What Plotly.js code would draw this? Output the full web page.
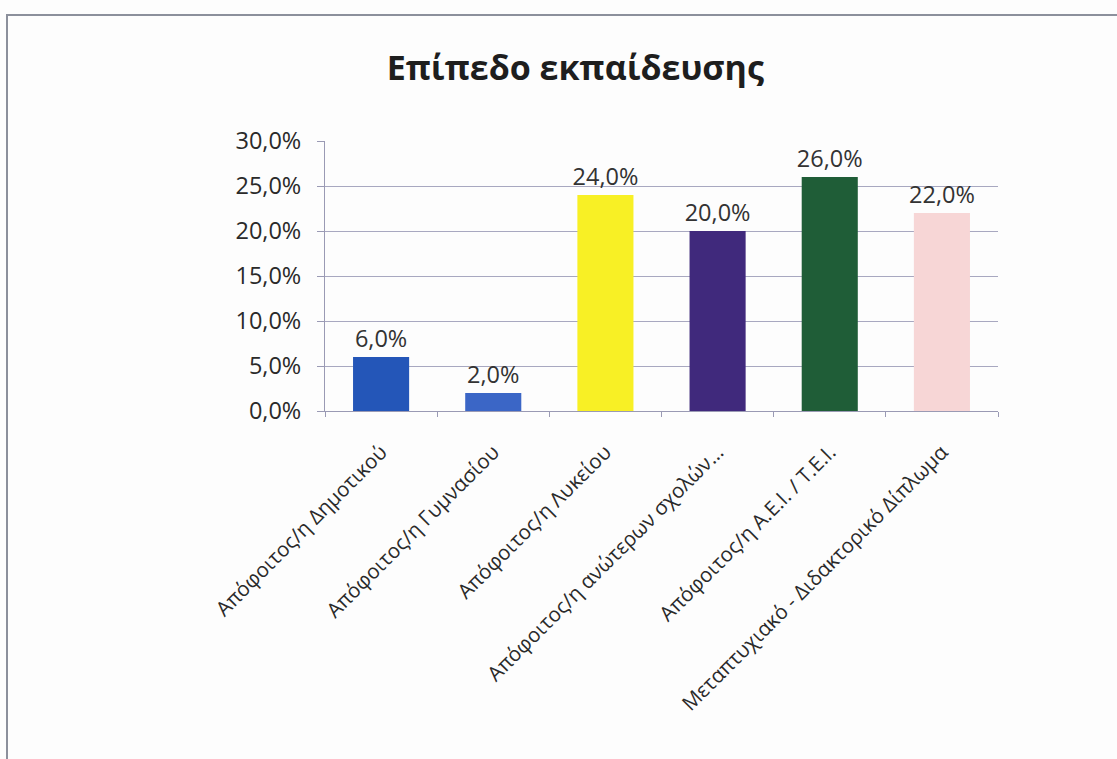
<!DOCTYPE html>
<html>
<head>
<meta charset="utf-8">
<script src="https://cdn.plot.ly/plotly-3.0.1.min.js"></script>
<style>
html,body{margin:0;padding:0;background:#fdfdfd;}
#chart{width:1117px;height:759px;}
#frame{position:absolute;left:6px;top:14px;width:1111px;height:745px;border-top:2px solid #8c909c;border-left:2px solid #8c909c;pointer-events:none;}
</style>
</head>
<body>
<div id="chart"></div>
<div id="frame"></div>
<script>
const categories = [
  "Απόφοιτος/η Δημοτικού",
  "Απόφοιτος/η Γυμνασίου",
  "Απόφοιτος/η Λυκείου",
  "Απόφοιτος/η ανώτερων σχολών...",
  "Απόφοιτος/η Α.Ε.Ι. / Τ.Ε.Ι.",
  "Μεταπτυχιακό - Διδακτορικό Δίπλωμα"
];
const values = [6.0, 2.0, 24.0, 20.0, 26.0, 22.0];
const barColors = ["#2456b8", "#3b66c6", "#f8f025", "#40297c", "#1f5d37", "#f7d6d6"];
const yTicks = [0, 5, 10, 15, 20, 25, 30];
const yTickLabels = ["0,0%", "5,0%", "10,0%", "15,0%", "20,0%", "25,0%", "30,0%"];
const labels = values.map(v => v.toFixed(1).replace('.', ',') + '%');

const font = "Open Sans, Noto Sans, sans-serif";

Plotly.newPlot('chart', [{
  type: 'bar',
  x: categories,
  y: values,
  marker: {color: barColors},
  width: 0.5,
  text: labels,
  textposition: 'outside',
  constraintext: 'none',
  cliponaxis: false,
  textfont: {family: font, size: 23.5, color: '#333333'},
  hoverinfo: 'none'
}], {
  width: 1117,
  height: 759,
  paper_bgcolor: '#fdfdfd',
  plot_bgcolor: '#fdfdfd',
  margin: {l: 325, r: 119, t: 141, b: 348},
  title: {
    text: '<b>Επίπεδο εκπαίδευσης</b>',
    x: 0.515, xanchor: 'center', y: 0.91, yanchor: 'middle',
    font: {family: font, size: 34, color: '#1e1e1e'}
  },
  showlegend: false,
  xaxis: {
    type: 'category',
    tickangle: -45,
    tickfont: {family: font, size: 20.5, color: '#2a2a2a'},
    showline: true, linecolor: '#9a9ab4', linewidth: 1,
    ticks: 'outside', tickson: 'boundaries', ticklen: 5, tickcolor: '#9a9ab4',
    ticklabelstandoff: 20,
    showgrid: false
  },
  yaxis: {
    range: [0, 30],
    tickvals: yTicks,
    ticktext: yTickLabels,
    tickfont: {family: font, size: 23.5, color: '#2a2a2a'},
    showline: true, linecolor: '#9a9ab4', linewidth: 1,
    ticks: 'outside', ticklen: 7, tickcolor: '#9a9ab4',
    ticklabelstandoff: 11,
    showgrid: true, gridcolor: '#a8a8c0', gridwidth: 1,
    zeroline: false
  }
}, {staticPlot: true});
</script>
</body>
</html>
